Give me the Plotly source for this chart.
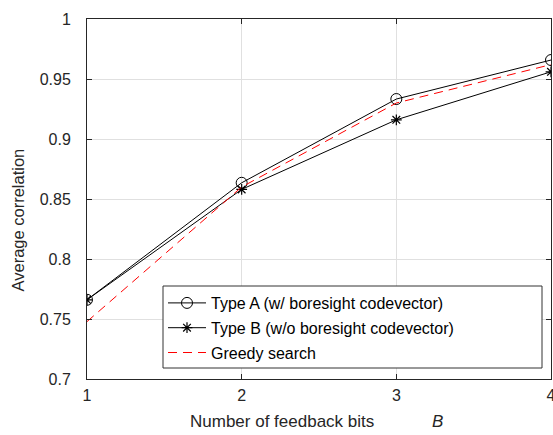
import plotly.graph_objects as go

bits = [1, 2, 3, 4]
type_a = [0.766, 0.8635, 0.9333, 0.9658]
type_b = [0.766, 0.858, 0.916, 0.956]
greedy = [0.7478, 0.860, 0.930, 0.962]
names = ["Type A (w/ boresight codevector)", "Type B (w/o boresight codevector)", "Greedy search"]
yticks = [0.7, 0.75, 0.8, 0.85, 0.9, 0.95, 1]
ytext = ["0.7", "0.75", "0.8", "0.85", "0.9", "0.95", "1"]

FONT = "Liberation Sans, Arial"
TXT = "#262626"
W, H = 553, 435
L, R, T, B = 87, 2, 19, 56
PW, PH = W - L - R, H - T - B


def px(xp):
    return (xp - L) / PW


def py(yp):
    return (H - B - yp) / PH


fig = go.Figure()
fig.add_trace(go.Scatter(x=bits, y=type_a, name=names[0], mode="lines+markers", legendgroup="a",
                         line=dict(color="black", width=1),
                         marker=dict(symbol="circle-open", size=11, color="black", line=dict(width=1))))
fig.add_trace(go.Scatter(x=bits, y=type_b, name=names[1], mode="lines+markers", legendgroup="b",
                         line=dict(color="black", width=1),
                         marker=dict(symbol="asterisk-open", size=9, color="black", line=dict(width=1.2))))
fig.add_trace(go.Scatter(x=bits, y=greedy, name=names[2], mode="lines", legendgroup="c",
                         line=dict(color="red", width=1, dash="9px,6px")))

axis_common = dict(showline=True, linecolor=TXT, linewidth=1, mirror="ticks",
                   ticks="inside", ticklen=5, tickcolor=TXT, ticklabeloverflow="allow",
                   showgrid=True, gridcolor="#e0e0e0", gridwidth=1, zeroline=False,
                   tickfont=dict(family=FONT, size=16, color=TXT))

fig.update_layout(
    width=W, height=H,
    margin=dict(l=L, r=R, t=T, b=B, autoexpand=False),
    paper_bgcolor="white", plot_bgcolor="white",
    font=dict(family=FONT, size=16, color=TXT),
    xaxis=dict(range=[1, 4], tickvals=bits, ticktext=[str(b) for b in bits],
               ticklabelstandoff=2, **axis_common),
    yaxis=dict(range=[0.7, 1], tickvals=yticks, ticktext=ytext,
               ticklabelstandoff=12, **axis_common),
    legend=dict(x=px(163), y=py(286), xanchor="left", yanchor="top",
                borderwidth=0, bgcolor="rgba(0,0,0,0)",
                font=dict(family=FONT, size=16, color="black"), itemwidth=38, tracegroupgap=1),
    showlegend=True,
    hovermode=False,
)
# legend frame
fig.add_shape(type="rect", xref="paper", yref="paper", layer="above",
              x0=px(163), x1=px(542), y0=py(368), y1=py(286),
              line=dict(color="#333333", width=1), fillcolor="white")
fig.add_annotation(text="Number of feedback bits", xref="paper", yref="paper",
                   x=px(281.5), y=py(421.5), xanchor="center", yanchor="middle",
                   showarrow=False, font=dict(family=FONT, size=17, color=TXT))
fig.add_annotation(text="<i>B</i>", xref="paper", yref="paper",
                   x=px(437), y=py(421.5), xanchor="center", yanchor="middle",
                   showarrow=False, font=dict(family=FONT, size=17, color=TXT))
fig.add_annotation(text="Average correlation", xref="paper", yref="paper",
                   x=px(17.5), y=py(220), textangle=-90, xanchor="center", yanchor="middle",
                   showarrow=False, font=dict(family=FONT, size=16.5, color=TXT))

fig.write_html("out.html", config={"displayModeBar": False, "staticPlot": True},
               post_script="document.body.style.margin='0';")
